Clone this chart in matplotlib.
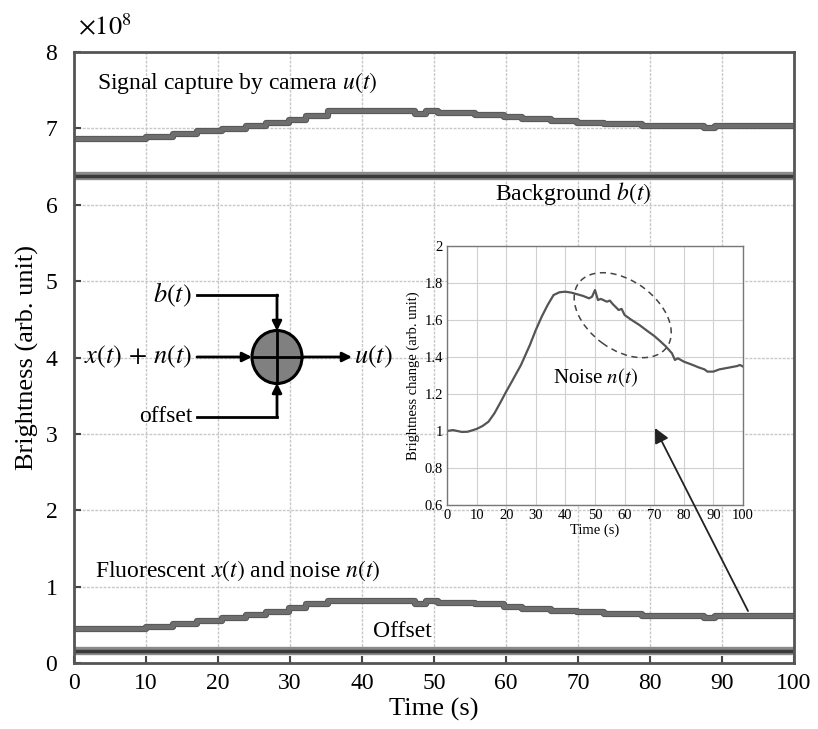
import matplotlib.pyplot as plt
import matplotlib.patheffects as pe
from matplotlib.patches import Ellipse, FancyArrowPatch
from matplotlib.lines import Line2D

plt.rcParams['font.family'] = ['Liberation Serif', 'DejaVu Serif']
plt.rcParams['mathtext.fontset'] = 'stix'

# main plot, brightness in units of 1e8 (staircase signals)
step_t = [0, 10, 13.7, 17.1, 20.5, 23.9, 26.7, 29.8, 32.2, 35.3, 47.4, 48.9,
          50.5, 55.7, 59.7, 62.2, 66.2, 69.9, 73.6, 78.9, 87.5, 89.1, 100]
camera_u = [6.86, 6.89, 6.92, 6.96, 6.99, 7.03, 7.07, 7.11, 7.16, 7.22, 7.19, 7.22,
            7.20, 7.17, 7.14, 7.12, 7.09, 7.07, 7.05, 7.03, 7.00, 7.03, 7.03]
fluor_x = [0.45, 0.48, 0.51, 0.55, 0.59, 0.63, 0.67, 0.73, 0.77, 0.81, 0.78, 0.81,
           0.79, 0.77, 0.74, 0.71, 0.69, 0.665, 0.64, 0.62, 0.59, 0.62, 0.62]
flat_t = [0, 100]
background_b = [6.38, 6.38]
offset_o = [0.165, 0.165]

# inset: normalised brightness change
ins_t = [0, 2, 5, 7, 10, 12, 14, 16, 18, 20, 22, 25, 28, 30, 32, 34, 36, 38, 40,
         42, 44, 46, 48, 49, 50, 51, 52, 54, 55, 56, 58, 59, 60, 62, 65, 68, 70,
         72, 74, 76, 77, 78, 80, 83, 85, 87, 88, 90, 92, 95, 98, 99, 100]
ins_v = [1.0, 1.005, 0.995, 0.996, 1.011, 1.027, 1.05, 1.095, 1.153, 1.213, 1.27,
         1.357, 1.465, 1.546, 1.618, 1.681, 1.735, 1.75, 1.753, 1.748, 1.739, 1.73,
         1.717, 1.726, 1.762, 1.708, 1.714, 1.699, 1.705, 1.686, 1.654, 1.66, 1.627,
         1.604, 1.573, 1.537, 1.514, 1.486, 1.456, 1.42, 1.384, 1.393, 1.375, 1.357,
         1.344, 1.333, 1.321, 1.321, 1.333, 1.342, 1.351, 1.357, 1.348]

W, H = 818, 729


def P(x, y):
    # pixel position (from top-left) -> figure fraction
    return (x / W, 1 - y / H)


fig = plt.figure(figsize=(W / 100, H / 100), dpi=100)
ax = fig.add_axes([0.0905, 0.0901, 0.880, 0.839])

sig = [pe.Stroke(linewidth=4.5, foreground='#585858'), pe.Normal()]
flat = [pe.Stroke(linewidth=6, foreground='#8a8a8a'), pe.Normal()]
ax.plot(step_t, camera_u, drawstyle='steps-post', color='#6e6e6e', lw=3, path_effects=sig)
ax.plot(step_t, fluor_x, drawstyle='steps-post', color='#6e6e6e', lw=3, path_effects=sig)
ax.plot(flat_t, background_b, color='#3a3a3a', lw=2.5, path_effects=flat)
ax.plot(flat_t, offset_o, color='#3a3a3a', lw=2.5, path_effects=flat)

ax.set_xlim(0, 100)
ax.set_ylim(0, 8)
ax.set_xticks(range(0, 101, 10))
ax.set_yticks(range(0, 9))
ax.grid(True, color='#c8c8c8', linestyle=(0, (2, 1)), lw=1)
ax.tick_params(direction='in', length=5, width=1.5, labelsize=17, color='#444444')
ax.tick_params(axis='y', pad=12)
ax.tick_params(axis='x', pad=7)
for s in ax.spines.values():
    s.set_color('#555555')
    s.set_linewidth(2)
ax.set_xlabel('Time (s)', fontsize=19, labelpad=3)
ax.set_ylabel('Brightness (arb. unit)', fontsize=19, labelpad=5)

ax.text(3.2, 7.59, r'Signal capture by camera $u(t)$', fontsize=17, va='center')
ax.text(58.5, 6.14, r'Background $b(t)$', fontsize=17, va='center')
ax.text(2.9, 1.21, r'Fluorescent $x(t)$ and noise $n(t)$', fontsize=17, va='center')
ax.text(41.5, 0.42, 'Offset', fontsize=17, va='center')
fig.text(*P(78, 27), r'$\times10^8$', fontsize=19, va='center')

# block diagram
fig.add_artist(Ellipse(P(277, 357), 50 / W, 53 / H, transform=fig.transFigure,
                       facecolor='#808080', edgecolor='black', lw=2.2))
fig.add_artist(Line2D(*zip(P(277, 331), P(277, 383)), transform=fig.transFigure, color='k', lw=2))
fig.add_artist(Line2D(*zip(P(252, 357), P(302, 357)), transform=fig.transFigure, color='k', lw=2))
fig.add_artist(Line2D(*zip(P(197, 295), P(277, 295)), transform=fig.transFigure, color='k', lw=2))
fig.add_artist(Line2D(*zip(P(197, 417), P(277, 417)), transform=fig.transFigure, color='k', lw=2))
for a, b in [((277, 295), (277, 331)), ((277, 417), (277, 383)),
             ((197, 357), (252, 357)), ((302, 357), (352, 357))]:
    fig.add_artist(FancyArrowPatch(P(*a), P(*b), transform=fig.transFigure,
                                   arrowstyle='-|>', mutation_scale=14, color='k', lw=2,
                                   shrinkA=0, shrinkB=0))
fig.text(*P(192, 295), r'$b(t)$', fontsize=19, ha='right', va='center')
fig.text(*P(192, 357), r'$x(t)\,+\,n(t)$', fontsize=19, ha='right', va='center')
fig.text(*P(192, 417), 'offset', fontsize=17, ha='right', va='center')
fig.text(*P(354, 357), r'$u(t)$', fontsize=19, ha='left', va='center')

# inset
axi = fig.add_axes([447 / W, (H - 505) / H, 296 / W, 259 / H])
axi.plot(ins_t, ins_v, color='#555555', lw=1.6)
axi.set_xlim(0, 100)
axi.set_ylim(0.6, 2)
axi.set_xticks(range(0, 101, 10))
axi.set_yticks([0.6, 0.8, 1, 1.2, 1.4, 1.6, 1.8, 2])
axi.set_yticklabels(['0.6', '0.8', '1', '1.2', '1.4', '1.6', '1.8', '2'])
axi.grid(True, color='#d0d0d0', lw=0.8)
axi.tick_params(length=0, labelsize=10.5, pad=3)
for s in axi.spines.values():
    s.set_color('#777777')
    s.set_linewidth(1)
axi.set_xlabel('Time (s)', fontsize=10.5, labelpad=1)
axi.set_ylabel('Brightness change (arb. unit)', fontsize=10.5, labelpad=3)
axi.text(50, 1.29, r'Noise $n(t)$', fontsize=15, ha='center', va='center')

fig.add_artist(Ellipse((6.227, (H - 315.2) / 100), 1.09, 0.69, angle=-36,
                       transform=fig.dpi_scale_trans, fill=False, edgecolor='#444444',
                       lw=1.1, linestyle=(0, (4, 3))))
fig.add_artist(FancyArrowPatch(P(748, 611), P(655, 428), transform=fig.transFigure,
                               arrowstyle='-|>', mutation_scale=22, color='#222222',
                               lw=1.3, shrinkA=0, shrinkB=0))

fig.savefig('out.png', dpi=100)
